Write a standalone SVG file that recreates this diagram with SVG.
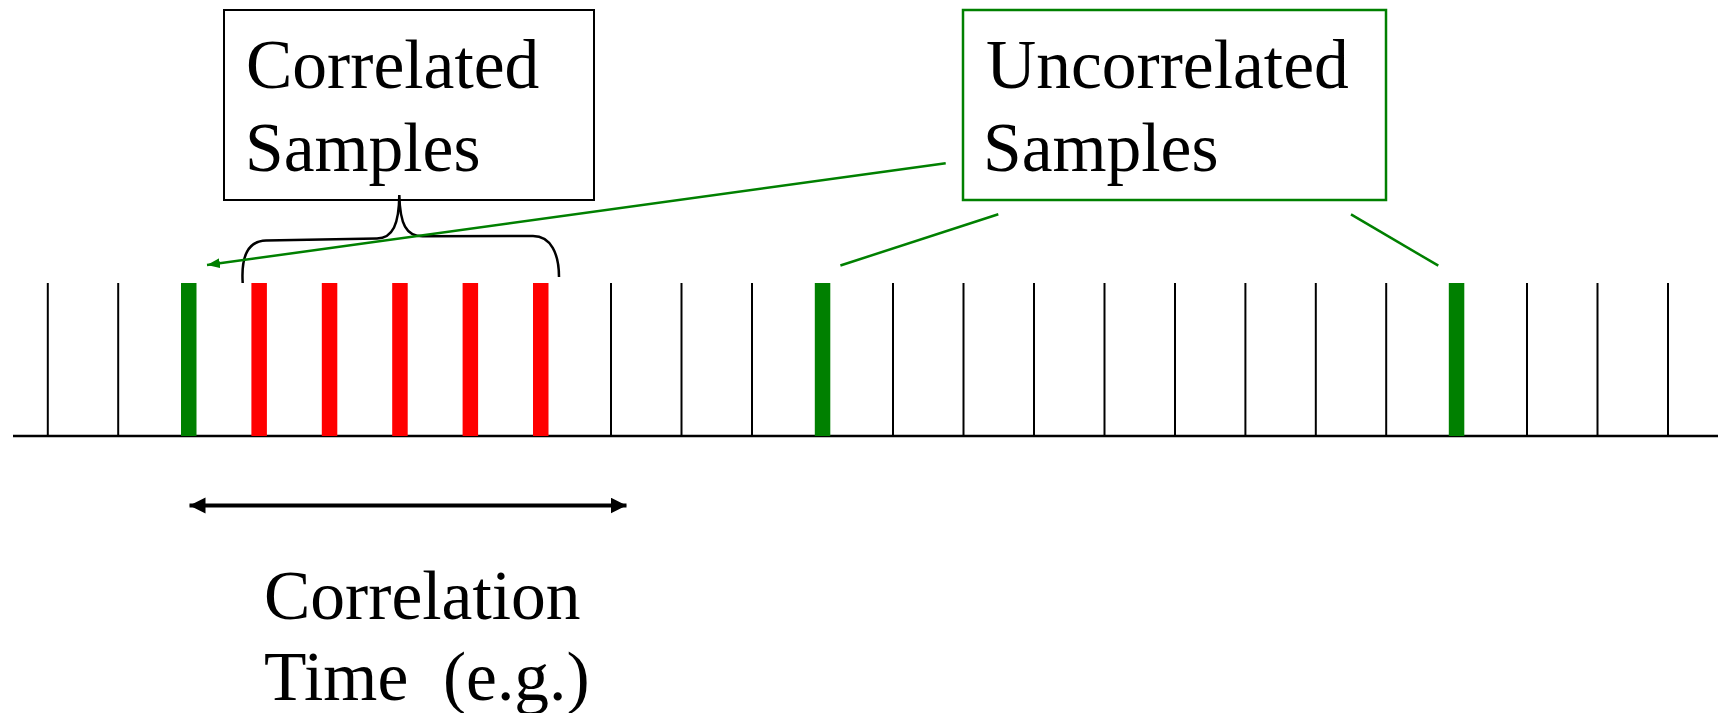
<svg xmlns="http://www.w3.org/2000/svg" width="1718" height="713" viewBox="0 0 1718 713">
<style>
.lbl{font-family:"Liberation Serif","Times New Roman",serif;font-size:69.5px;fill:#000;white-space:pre}
.tick{stroke:#000;stroke-width:2}
.g{fill:#008000}
.r{fill:#ff0000}
.gl{stroke:#008000;stroke-width:2.5;fill:none}
</style>
<defs>
<marker id="ga" markerUnits="userSpaceOnUse" markerWidth="14" markerHeight="10" refX="13" refY="5" orient="auto">
<path d="M0,0 L13,5 L0,10 Z" fill="#008000"/>
</marker>
<marker id="ba" markerUnits="userSpaceOnUse" markerWidth="18" markerHeight="18" refX="16" refY="8" orient="auto-start-reverse">
<path d="M0,0 L16,8 L0,16 Z" fill="#000"/>
</marker>
</defs>
<rect width="1718" height="713" fill="#fff"/>
<g id="axis">
<line x1="13" y1="436" x2="1718" y2="436" stroke="#000" stroke-width="2.5"/>
<g class="tick">
<line x1="47.8" y1="283" x2="47.8" y2="436"/>
<line x1="118.2" y1="283" x2="118.2" y2="436"/>
<line x1="611" y1="283" x2="611" y2="436"/>
<line x1="681.5" y1="283" x2="681.5" y2="436"/>
<line x1="752" y1="283" x2="752" y2="436"/>
<line x1="893" y1="283" x2="893" y2="436"/>
<line x1="963.5" y1="283" x2="963.5" y2="436"/>
<line x1="1034" y1="283" x2="1034" y2="436"/>
<line x1="1104.5" y1="283" x2="1104.5" y2="436"/>
<line x1="1175" y1="283" x2="1175" y2="436"/>
<line x1="1245.4" y1="283" x2="1245.4" y2="436"/>
<line x1="1315.8" y1="283" x2="1315.8" y2="436"/>
<line x1="1386.2" y1="283" x2="1386.2" y2="436"/>
<line x1="1527" y1="283" x2="1527" y2="436"/>
<line x1="1597.5" y1="283" x2="1597.5" y2="436"/>
<line x1="1668" y1="283" x2="1668" y2="436"/>
</g>
</g>
<g id="uncorrelated-bars">
<rect class="g" x="181" y="283" width="15.5" height="153"/>
<rect class="g" x="814.8" y="283" width="15.5" height="153"/>
<rect class="g" x="1448.8" y="283" width="15.5" height="153"/>
</g>
<g id="correlated-bars">
<rect class="r" x="251.4" y="283" width="15.5" height="153"/>
<rect class="r" x="321.8" y="283" width="15.5" height="153"/>
<rect class="r" x="392.2" y="283" width="15.5" height="153"/>
<rect class="r" x="462.6" y="283" width="15.5" height="153"/>
<rect class="r" x="533" y="283" width="15.5" height="153"/>
</g>
<g id="correlated-box">
<rect x="224" y="10" width="370" height="190" fill="#fff" stroke="#000" stroke-width="2"/>
<text class="lbl" x="246" y="88">Correlated</text>
<text class="lbl" x="245" y="171">Samples</text>
</g>
<g id="uncorrelated-box">
<rect x="963" y="10" width="423" height="190" fill="#fff" stroke="#008000" stroke-width="2.5"/>
<text class="lbl" x="986" y="88">Uncorrelated</text>
<text class="lbl" x="983" y="171">Samples</text>
</g>
<g id="correlation-time">
<text class="lbl" x="264" y="619">Correlation</text>
<text class="lbl" x="264" y="700">Time  (e.g.)</text>
</g>
<g id="connectors">
<path d="M242.7,283 C241,256 248,241 266,240.5 L377,238.5 C393,238 399,224 399.3,195 C400,224 406,236.5 423,236.3 L533,236 C551,236 559,254 559,277" fill="none" stroke="#000" stroke-width="2.5"/>
<line class="gl" x1="945.7" y1="163.3" x2="207" y2="265" stroke-width="2" marker-end="url(#ga)"/>
<line class="gl" x1="998.3" y1="214.3" x2="840.4" y2="265.5"/>
<line class="gl" x1="1351" y1="214.3" x2="1438.3" y2="265.7"/>
<line x1="189.5" y1="505.5" x2="626.5" y2="505.5" stroke="#000" stroke-width="4" marker-start="url(#ba)" marker-end="url(#ba)"/>
</g>
</svg>
